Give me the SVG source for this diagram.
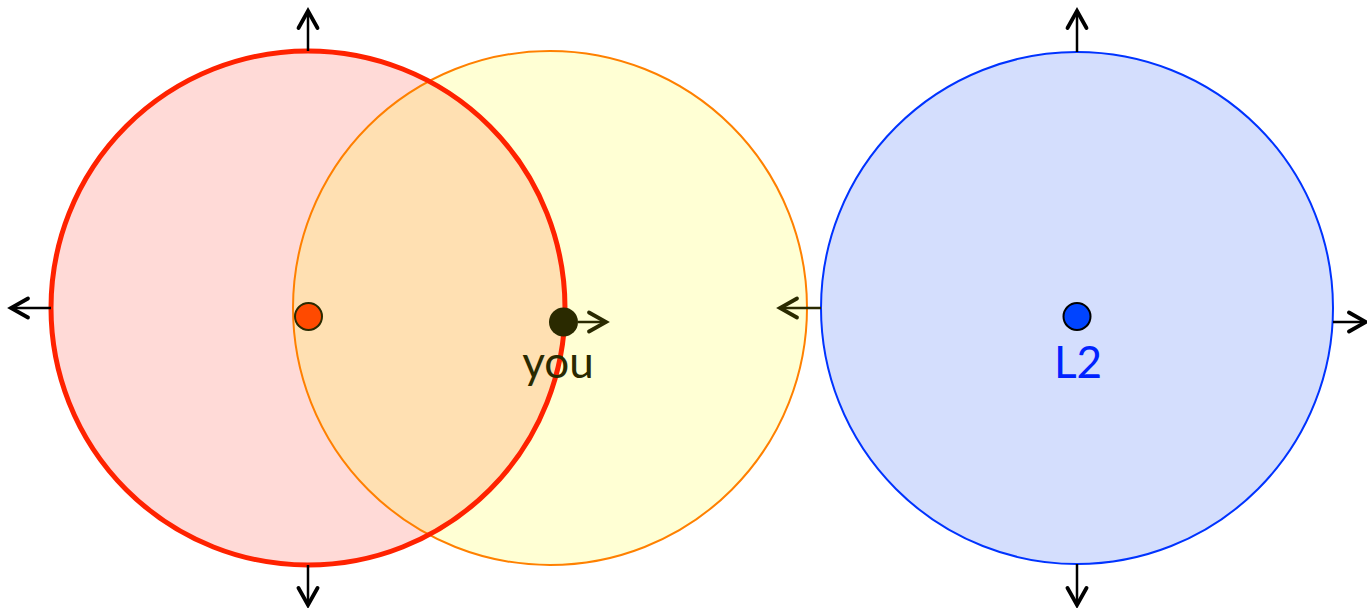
<svg xmlns="http://www.w3.org/2000/svg" width="1367" height="608" viewBox="0 0 1367 608">
<defs>
<marker id="ahk" viewBox="0 0 26 26" refX="21" refY="13" markerWidth="26" markerHeight="26" markerUnits="userSpaceOnUse" orient="auto">
<path d="M4,3.5 L21,13 L4,22.5" fill="none" stroke="#000" stroke-width="3.8" stroke-linecap="round" stroke-linejoin="miter"/>
</marker>
<marker id="ahd" viewBox="0 0 26 26" refX="21" refY="13" markerWidth="26" markerHeight="26" markerUnits="userSpaceOnUse" orient="auto">
<path d="M4,3.5 L21,13 L4,22.5" fill="none" stroke="#2a2a00" stroke-width="3.8" stroke-linecap="round" stroke-linejoin="miter"/>
</marker>
</defs>
<style>
.k{stroke:#000;stroke-width:2.5;fill:none;marker-end:url(#ahk)}
.d{stroke:#2a2a00;stroke-width:2.5;fill:none;marker-end:url(#ahd)}
.lbl{font-family:"Lato","Open Sans","DejaVu Sans",sans-serif;font-size:44px;text-anchor:middle}
</style>
<rect width="1367" height="608" fill="#fff"/>
<g id="red-circle">
<circle cx="308" cy="308" r="257" fill="#FFDAD7"/>
</g>
<g id="yellow-circle">
<circle cx="550" cy="308" r="257" fill="#FFFF00" fill-opacity="0.17"/>
<circle cx="550" cy="308" r="257" fill="none" stroke="#FF8000" stroke-width="2"/>
</g>
<g id="red-circle-outline">
<circle cx="308" cy="308" r="257" fill="none" stroke="#FF2200" stroke-width="5"/>
</g>
<g id="blue-circle">
<circle cx="1077" cy="308" r="256" fill="#D4DEFD" stroke="#0033FF" stroke-width="2"/>
</g>
<g id="connectors">
<line class="k" x1="308" y1="51" x2="308" y2="11"/>
<line class="k" x1="308" y1="565" x2="308" y2="605"/>
<line class="k" x1="51" y1="308" x2="11" y2="308"/>
<line class="d" x1="578" y1="322" x2="606" y2="322"/>
<line class="d" x1="821" y1="308" x2="780" y2="308"/>
<line class="k" x1="1077" y1="52" x2="1077" y2="11"/>
<line class="k" x1="1077" y1="564" x2="1077" y2="605"/>
<line class="k" x1="1333" y1="322" x2="1366" y2="322"/>
</g>
<g id="red-dot">
<circle cx="308.5" cy="316.5" r="13.5" fill="#FF4A00" stroke="#2a2a00" stroke-width="2"/>
</g>
<g id="you">
<circle cx="563.5" cy="322" r="14.5" fill="#2a2a00"/>
<text class="lbl" x="558" y="378" fill="#2a2a00">you</text>
</g>
<g id="L2">
<circle cx="1077" cy="316.5" r="13.5" fill="#0044FF" stroke="#000" stroke-width="2"/>
<text class="lbl" x="1078" y="378" fill="#0022FF">L2</text>
</g>
</svg>
